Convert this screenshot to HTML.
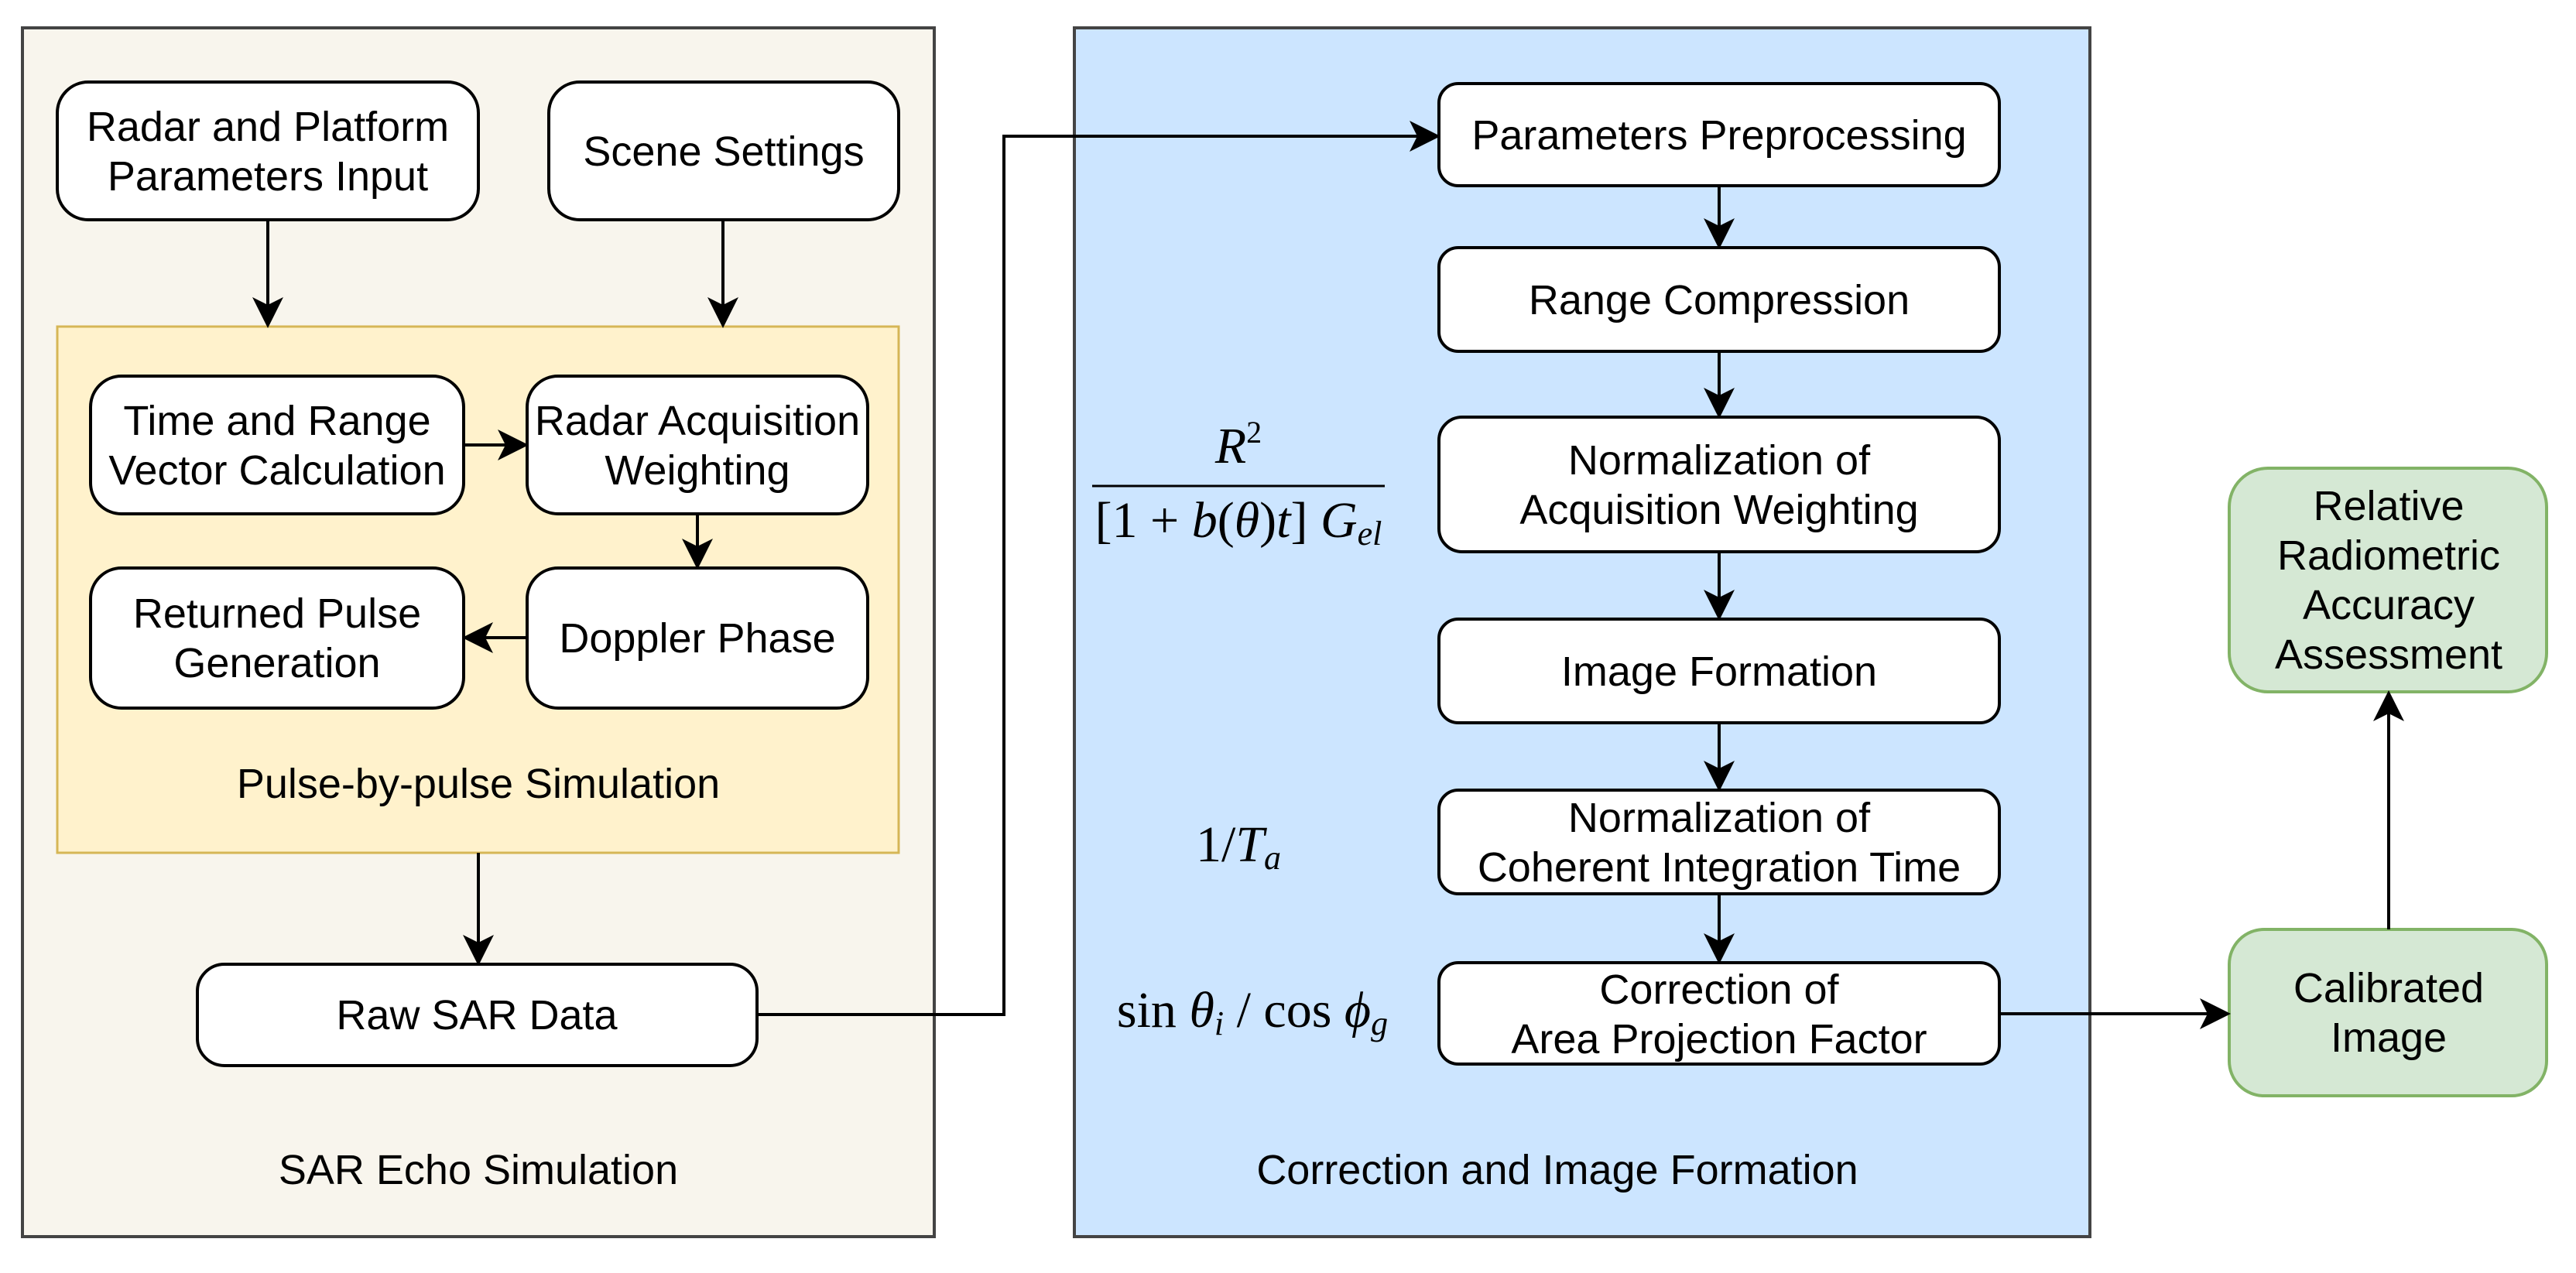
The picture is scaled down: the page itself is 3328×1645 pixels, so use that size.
<!DOCTYPE html>
<html><head><meta charset="utf-8"><style>
html,body{margin:0;padding:0;background:#fff;}
svg{display:block;}
text{font-family:"Liberation Sans",sans-serif;font-size:54px;fill:#000;}
.m{font-family:"Liberation Serif",serif;font-size:66px;}
</style></head><body>
<svg width="3328" height="1645" viewBox="0 0 3328 1645" xmlns="http://www.w3.org/2000/svg">
<defs>
<marker id="b" viewBox="0 0 20 20" refX="18" refY="10" markerWidth="40" markerHeight="40" orient="auto" markerUnits="userSpaceOnUse"><path d="M0,0 L20,10 L0,20 L5,10 Z" fill="#000"/></marker></defs>
<rect x="29" y="36" width="1178" height="1562" fill="#f8f5ed" stroke="#444" stroke-width="4"/>
<rect x="1388" y="36" width="1312" height="1562" fill="#cce5ff" stroke="#444" stroke-width="4"/>
<rect x="74" y="422" width="1087" height="680" fill="#fff2cc" stroke="#d6b656" stroke-width="3"/>
<g fill="#fff" stroke="#000" stroke-width="4">
<rect x="74" y="106" width="544" height="178" rx="40"/>
<rect x="709" y="106" width="452" height="178" rx="40"/>
<rect x="117" y="486" width="482" height="178" rx="40"/>
<rect x="681" y="486" width="440" height="178" rx="40"/>
<rect x="117" y="734" width="482" height="181" rx="40"/>
<rect x="681" y="734" width="440" height="181" rx="40"/>
<rect x="255" y="1246" width="723" height="131" rx="35"/>
<rect x="1859" y="108" width="724" height="132" rx="25"/>
<rect x="1859" y="320" width="724" height="134" rx="25"/>
<rect x="1859" y="539" width="724" height="174" rx="30"/>
<rect x="1859" y="800" width="724" height="134" rx="25"/>
<rect x="1859" y="1021" width="724" height="134" rx="25"/>
<rect x="1859" y="1244" width="724" height="131" rx="25"/>
</g>
<g fill="#d5e8d4" stroke="#82b366" stroke-width="4">
<rect x="2880" y="605" width="410" height="289" rx="50"/>
<rect x="2880" y="1201" width="410" height="215" rx="45"/>
</g>
<g stroke="#000" stroke-width="4" fill="none" marker-end="url(#b)">
<line x1="346" y1="284" x2="346" y2="420"/>
<line x1="934" y1="284" x2="934" y2="420"/>
<line x1="599" y1="575" x2="679" y2="575"/>
<line x1="901" y1="664" x2="901" y2="732"/>
<line x1="681" y1="824" x2="601" y2="824"/>
<line x1="618" y1="1102" x2="618" y2="1244"/>
<polyline points="978,1311 1297,1311 1297,176 1857,176"/>
<line x1="2221" y1="240" x2="2221" y2="318"/>
<line x1="2221" y1="454" x2="2221" y2="537"/>
<line x1="2221" y1="713" x2="2221" y2="798"/>
<line x1="2221" y1="934" x2="2221" y2="1019"/>
<line x1="2221" y1="1155" x2="2221" y2="1242"/>
<line x1="2583" y1="1310" x2="2878" y2="1310"/>
<line x1="3086" y1="1201" x2="3086" y2="896"/>
</g>
<g text-anchor="middle">
<text x="346" y="182">Radar and Platform</text><text x="346" y="246">Parameters Input</text>
<text x="935" y="214">Scene Settings</text>
<text x="358" y="562">Time and Range</text><text x="358" y="626">Vector Calculation</text>
<text x="901" y="562">Radar Acquisition</text><text x="901" y="626">Weighting</text>
<text x="358" y="811">Returned Pulse</text><text x="358" y="875">Generation</text>
<text x="901" y="843">Doppler Phase</text>
<text x="618" y="1031">Pulse-by-pulse Simulation</text>
<text x="616" y="1330">Raw SAR Data</text>
<text x="618" y="1530">SAR Echo Simulation</text>
<text x="2221" y="193">Parameters Preprocessing</text>
<text x="2221" y="406">Range Compression</text>
<text x="2221" y="613">Normalization of</text><text x="2221" y="677">Acquisition Weighting</text>
<text x="2221" y="886">Image Formation</text>
<text x="2221" y="1075">Normalization of</text><text x="2221" y="1139">Coherent Integration Time</text>
<text x="2221" y="1297">Correction of</text><text x="2221" y="1361">Area Projection Factor</text>
<text x="2012" y="1530">Correction and Image Formation</text>
<text x="3086" y="672">Relative</text><text x="3086" y="736">Radiometric</text><text x="3086" y="800">Accuracy</text><text x="3086" y="864">Assessment</text>
<text x="3086" y="1295">Calibrated</text><text x="3086" y="1359">Image</text>
</g>
<line x1="1411" y1="628" x2="1789" y2="628" stroke="#000" stroke-width="3"/>
<g text-anchor="middle">
<text class="m" x="1600" y="598"><tspan font-style="italic">R</tspan><tspan font-size="40" dy="-26">2</tspan></text>
<text class="m" x="1600" y="694">[1 + <tspan font-style="italic">b</tspan>(<tspan font-style="italic">θ</tspan>)<tspan font-style="italic">t</tspan>] <tspan font-style="italic">G</tspan><tspan font-style="italic" font-size="44" dy="10">el</tspan></text>
<text class="m" x="1600" y="1113">1/<tspan font-style="italic">T</tspan><tspan font-style="italic" font-size="44" dy="10">a</tspan></text>
<text class="m" x="1618" y="1327">sin <tspan font-style="italic">θ</tspan><tspan font-style="italic" font-size="44" dy="10">i</tspan><tspan dy="-10"> / cos </tspan><tspan font-style="italic">ϕ</tspan><tspan font-style="italic" font-size="44" dy="10">g</tspan></text>
</g>
</svg>
</body></html>
